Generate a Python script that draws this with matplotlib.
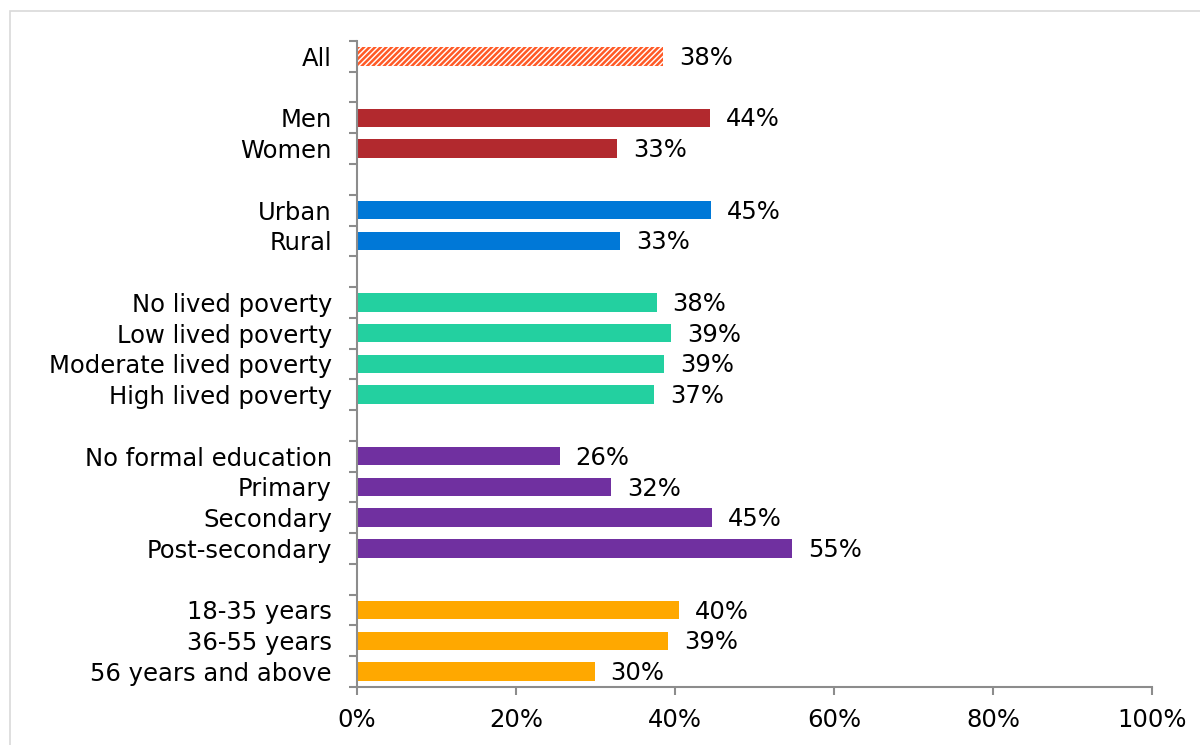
import numpy as np
import matplotlib.pyplot as plt
from matplotlib.patches import Rectangle

# groups of categories, drawn top to bottom with a blank slot between groups
groups = [
    ["All"],
    ["Men", "Women"],
    ["Urban", "Rural"],
    ["No lived poverty", "Low lived poverty", "Moderate lived poverty", "High lived poverty"],
    ["No formal education", "Primary", "Secondary", "Post-secondary"],
    ["18-35 years", "36-55 years", "56 years and above"],
]
values = [
    [38.5],
    [44.4, 32.7],
    [44.5, 33.1],
    [37.7, 39.5, 38.6, 37.4],
    [25.5, 32.0, 44.7, 54.7],
    [40.5, 39.1, 29.9],
]
labels = [
    ["38%"],
    ["44%", "33%"],
    ["45%", "33%"],
    ["38%", "39%", "39%", "37%"],
    ["26%", "32%", "45%", "55%"],
    ["40%", "39%", "30%"],
]
colors = ["#FF5A26", "#B2292E", "#0078D7", "#23D0A0", "#7030A0", "#FFA800"]

plt.rcParams['font.family'] = ['DejaVu Sans']
plt.rcParams['hatch.linewidth'] = 1.8

fig = plt.figure(figsize=(12, 7.45), dpi=100)
ax = fig.add_axes([0.2975, 0.078, 0.6625, 0.867])

fs = 17.5
pos = 0
ypos, names = [], []
for gi, (cats, vals, labs) in enumerate(zip(groups, values, labels)):
    for c, v, l in zip(cats, vals, labs):
        if gi == 0:
            ax.barh(pos, v, height=0.6, facecolor="white", edgecolor=colors[gi],
                    hatch="//////", linewidth=0)
        else:
            ax.barh(pos, v, height=0.6, color=colors[gi])
        ax.text(v + 2.0, pos + 0.05, l, va="center", ha="left", fontsize=fs, color="black")
        ypos.append(pos)
        names.append(c)
        pos += 1
    pos += 1
nslots = pos - 1

ax.set_ylim(nslots - 0.5, -0.5)
ax.set_xlim(0, 100)
ax.set_yticks(ypos)
ax.set_yticklabels(names, fontsize=fs)
ax.set_yticks(np.arange(-0.5, nslots, 1), minor=True)
ax.tick_params(axis="y", which="major", length=0, pad=18)
ax.tick_params(axis="y", which="minor", length=6, width=1.5, color="#8c8c8c")
ax.set_xticks(np.arange(0, 101, 20))
ax.set_xticklabels([f"{t}%" for t in range(0, 101, 20)], fontsize=fs)
ax.tick_params(axis="x", length=6, width=1.5, color="#8c8c8c", pad=9)

for s in ["top", "right"]:
    ax.spines[s].set_visible(False)
for s in ["left", "bottom"]:
    ax.spines[s].set_color("#8c8c8c")
    ax.spines[s].set_linewidth(1.5)

fig.patches.append(Rectangle((10 / 1200, -0.01), 1.0, 1 - 11 / 745 + 0.01,
                             transform=fig.transFigure, fill=False,
                             edgecolor="#d9d9d9", linewidth=1.2))

fig.savefig("out.png", dpi=100)
